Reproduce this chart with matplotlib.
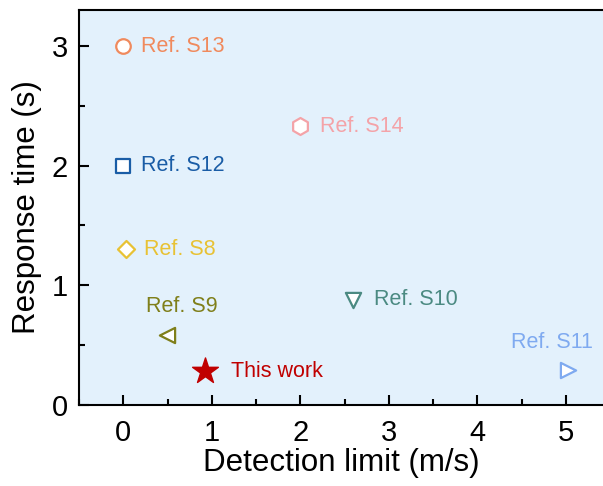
import matplotlib
matplotlib.use('Agg')
import matplotlib.pyplot as plt
from matplotlib.ticker import MultipleLocator

plt.rcParams['font.family'] = ['Liberation Sans', 'DejaVu Sans']

# data
labels = ['Ref. S13', 'Ref. S14', 'Ref. S12', 'Ref. S8', 'Ref. S9',
          'This work', 'Ref. S10', 'Ref. S11']
det_limit = [0.0, 2.0, 0.0, 0.03, 0.49, 0.92, 2.6, 5.03]
resp_time = [3.0, 2.33, 2.0, 1.3, 0.58, 0.28, 0.88, 0.29]
markers = ['o', 'h', 's', 'D', '<', '*', 'v', '>']
colors = ['#F08A5D', '#F4A3A8', '#1A5DA6', '#E8C234', '#7F7F1A',
          '#C00000', '#4B8A82', '#7FAAF0']
sizes = [110, 150, 90, 75, 120, 380, 120, 120]
# label placement (offset points, ha)
offsets = [(13, 0, 'left'), (14, 0, 'left'), (13, 0, 'left'), (13, 0, 'left'),
           (11, 21, 'center'), (19, 0, 'left'), (15, 0, 'left'), (-12, 20, 'center')]

fig = plt.figure(figsize=(6.03, 4.86), dpi=100)
ax = fig.add_axes([0.131, 0.167, 0.869, 0.812])
ax.set_facecolor('#E3F1FC')

for i in range(len(labels)):
    if markers[i] == '*':
        ax.scatter(det_limit[i], resp_time[i], s=sizes[i], marker='*',
                   color=colors[i], zorder=3)
    else:
        ax.scatter(det_limit[i], resp_time[i], s=sizes[i], marker=markers[i],
                   facecolor='white', edgecolor=colors[i], linewidth=1.6, zorder=3)
    dx, dy, ha = offsets[i]
    ax.annotate(labels[i], (det_limit[i], resp_time[i]), xytext=(dx, dy),
                textcoords='offset points', ha=ha, va='center',
                fontsize=15.5, color=colors[i])

ax.set_xlim(-0.5, 5.42)
ax.set_ylim(0, 3.3)
ax.xaxis.set_major_locator(MultipleLocator(1))
ax.xaxis.set_minor_locator(MultipleLocator(0.5))
ax.yaxis.set_major_locator(MultipleLocator(1))
ax.yaxis.set_minor_locator(MultipleLocator(0.5))
ax.tick_params(which='both', direction='in', width=1.5, labelsize=21)
ax.tick_params(which='major', length=7)
ax.tick_params(which='minor', length=4.5)
ax.tick_params(axis='x', pad=10)
ax.tick_params(axis='y', pad=8)
for sp in ['left', 'bottom', 'top']:
    ax.spines[sp].set_linewidth(1.5)
ax.spines['right'].set_visible(False)

ax.set_xlabel('Detection limit (m/s)', fontsize=22.5, labelpad=1)
ax.set_ylabel('Response time (s)', fontsize=22.5, labelpad=7)

fig.savefig('out.png', dpi=100)
